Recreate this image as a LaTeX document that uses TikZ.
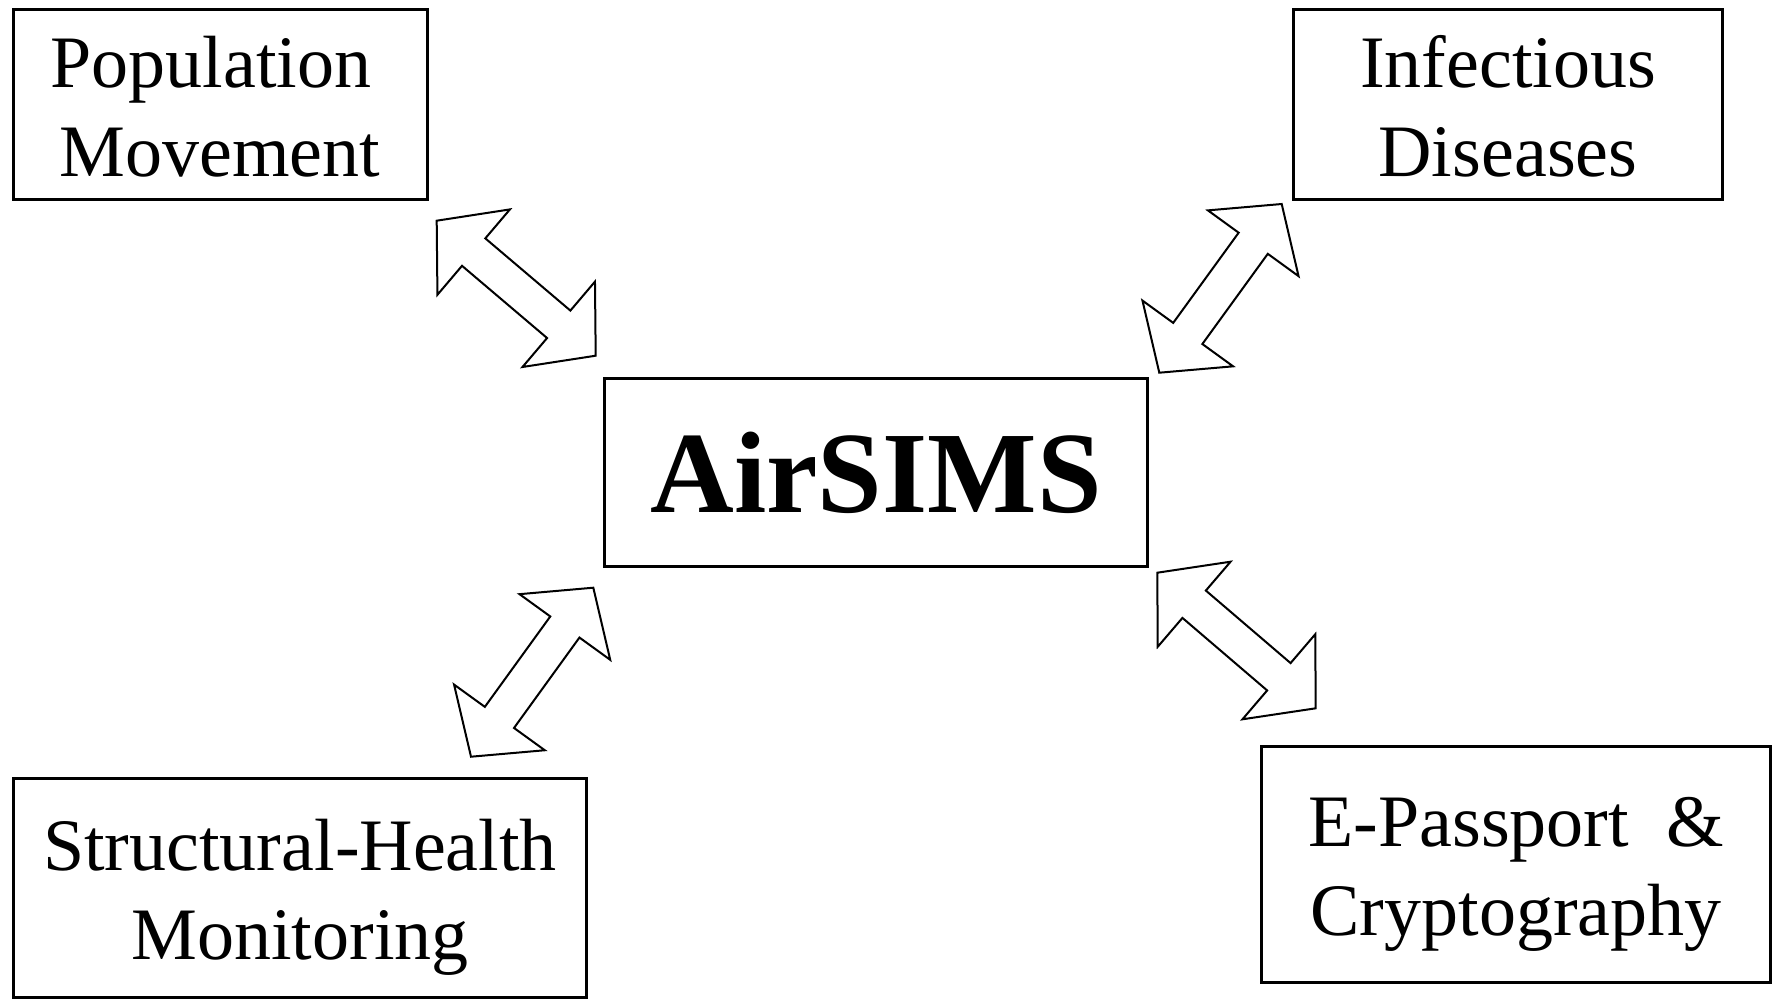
\documentclass[tikz,border=0pt]{standalone}
\usepackage{fontspec}
\setmainfont{Liberation Serif}
\usetikzlibrary{calc}

\tikzset{
  box/.style={draw, line width=3pt, inner sep=0pt, align=center,
    font=\fontsize{74}{89}\selectfont},
  blockarrow/.style={draw, line width=2pt, fill=white, line join=miter}
}

\newcommand{\dblarrow}[2]{%
  \draw[blockarrow] (#1)
    -- ($(#1)!48.5pt!(#2)!56pt!90:(#2)$) -- ($(#1)!48.5pt!(#2)!18pt!90:(#2)$)
    -- ($(#2)!48.5pt!(#1)!18pt!-90:(#1)$) -- ($(#2)!48.5pt!(#1)!56pt!-90:(#1)$)
    -- (#2)
    -- ($(#2)!48.5pt!(#1)!56pt!90:(#1)$) -- ($(#2)!48.5pt!(#1)!18pt!90:(#1)$)
    -- ($(#1)!48.5pt!(#2)!18pt!-90:(#2)$) -- ($(#1)!48.5pt!(#2)!56pt!-90:(#2)$)
    -- cycle;}

\begin{document}
\begin{tikzpicture}[x=1pt, y=-1pt]
    \useasboundingbox (0,0) rectangle (1778,999);

    \coordinate (A1) at (436.7,220.7);
    \coordinate (B1) at (595.7,355.7);
    \coordinate (A2) at (1281.7,204);
    \coordinate (B2) at (1159.3,372.7);
    \coordinate (A3) at (593.3,587.7);
    \coordinate (B3) at (471,756.7);
    \coordinate (A4) at (1157.3,572.7);
    \coordinate (B4) at (1315.7,708.3);

    \node[box, minimum width=414pt, minimum height=190pt, text height=146pt] (pop) at (220,104) {Population\hspace*{18pt}\\Movement};
    \node[box, minimum width=429pt, minimum height=190pt, text height=146pt] (inf) at (1508,104) {Infectious\\Diseases};
    \node[box, minimum width=543pt, minimum height=188pt,
          font=\bfseries\fontsize{116}{130}\selectfont] (air) at (876,472.5) {AirSIMS};
    \node[box, minimum width=573pt, minimum height=219pt, text height=158pt] (shm) at (300,888) {Structural-Health\\Monitoring};
    \node[box, minimum width=509pt, minimum height=236pt, text height=158pt] (epa) at (1516,864.5) {E-Passport\ \ \&\\Cryptography};

    \dblarrow{A1}{B1}
    \dblarrow{A2}{B2}
    \dblarrow{A3}{B3}
    \dblarrow{A4}{B4}
\end{tikzpicture}
\end{document}
